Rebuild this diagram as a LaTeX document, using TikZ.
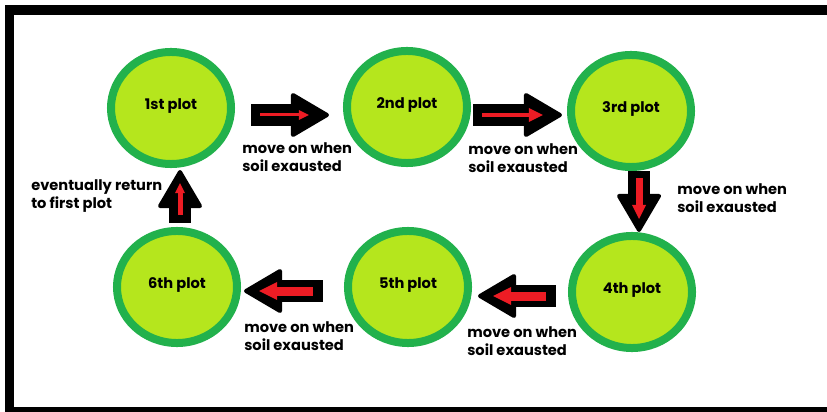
\documentclass[tikz,border=0pt]{standalone}
\usepackage{fontspec}
\setmainfont{Poppins}
\usetikzlibrary{arrows.meta,shapes.geometric}

\definecolor{ringgreen}{RGB}{34,177,76}
\definecolor{soilfill}{RGB}{181,230,29}
\definecolor{arrowred}{RGB}{237,28,36}

\begin{document}
\begin{tikzpicture}[x=0.025cm, y=-0.025cm,
  plot/.style={ellipse, draw=ringgreen, fill=soilfill, line width=0.2cm,
    minimum width=3cm, minimum height=2.8cm, inner sep=0pt, text depth=0.22cm,
    font=\fontsize{10.4}{12.8}\selectfont\bfseries},
  note/.style={anchor=west, align=left, inner sep=0pt,
    font=\fontsize{10.4}{12.8}\selectfont\bfseries},
  bigarrow/.style={line width=0.55cm,
    -{Triangle[length=1cm, width=1.15cm, line width=0.1cm, round]}},
  redarrow/.style 2 args={color=arrowred, line width=#1,
    -{Triangle[length=#2, width=#2, line width=0pt]}}]

  \useasboundingbox (0,0) rectangle (827,412);
  \clip (0,0) rectangle (827,412);
  \draw[line width=0.24cm] (827,10) -- (9.5,10) -- (9.5,412) -- (827,412);

  % the six plots
  \foreach \k/\x/\y/\t in {1/171/108/1st, 2/407/107/2nd, 3/631/111/3rd,
                          4/632/292/4th, 5/408/287/5th, 6/177/287/6th} {
    \node[plot] (p\k) at (\x,\y) {\t\ plot};
  }

  \foreach \k/\x/\y in {a/242/157, b/468/158, c/677/198, d/467/341, e/244/336} {
    \node[note] (move\k) at (\x,\y) {move on when\\soil exausted};
  }
  \node[note] (back) at (31,196) {eventually return\\to first plot};

  % 1 -> 2
  \draw[bigarrow, shorten <=0.4cm, shorten >=0.35cm]
    ([yshift=-0.175cm]p1.east) -- ([yshift=-0.175cm]p1.east -| p2.west);
  \draw[redarrow={0.075cm}{0.25cm}, shorten <=0.625cm, shorten >=0.85cm]
    ([yshift=-0.175cm]p1.east) -- ([yshift=-0.175cm]p1.east -| p2.west);
  % 2 -> 3
  \draw[bigarrow, shorten <=0.05cm, shorten >=0.125cm]
    ([yshift=-0.2cm]p2.east) -- ([yshift=-0.2cm]p2.east -| p3.west);
  \draw[redarrow={0.1cm}{0.35cm}, shorten <=0.275cm, shorten >=0.6cm]
    ([yshift=-0.2cm]p2.east) -- ([yshift=-0.2cm]p2.east -| p3.west);
  % 3 -> 4
  \draw[bigarrow]
    ([xshift=0.2cm]p3.south) -- ([xshift=0.2cm]p3.south |- p4.north);
  \draw[redarrow={0.175cm}{0.35cm}, shorten <=0.175cm, shorten >=0.325cm]
    ([xshift=0.2cm]p3.south) -- ([xshift=0.2cm]p3.south |- p4.north);
  % 4 -> 5
  \draw[bigarrow, shorten <=0.3cm, shorten >=0.15cm]
    ([yshift=-0.1cm]p4.west) -- ([yshift=-0.1cm]p4.west -| p5.east);
  \draw[redarrow={0.225cm}{0.45cm}, shorten <=0.55cm, shorten >=0.525cm]
    ([yshift=-0.1cm]p4.west) -- ([yshift=-0.1cm]p4.west -| p5.east);
  % 5 -> 6
  \draw[bigarrow, shorten <=0.525cm, shorten >=0.075cm]
    ([yshift=-0.1cm]p5.west) -- ([yshift=-0.1cm]p5.west -| p6.east);
  \draw[redarrow={0.225cm}{0.45cm}, shorten <=0.775cm, shorten >=0.45cm]
    ([yshift=-0.1cm]p5.west) -- ([yshift=-0.1cm]p5.west -| p6.east);
  % 6 -> 1
  \draw[bigarrow, shorten <=0.1cm, shorten >=0.05cm]
    ([xshift=0.075cm]p6.north) -- ([xshift=0.075cm]p6.north |- p1.south);
  \draw[redarrow={0.125cm}{0.25cm}, shorten <=0.3cm, shorten >=0.375cm]
    ([xshift=0.075cm]p6.north) -- ([xshift=0.075cm]p6.north |- p1.south);

\end{tikzpicture}
\end{document}
